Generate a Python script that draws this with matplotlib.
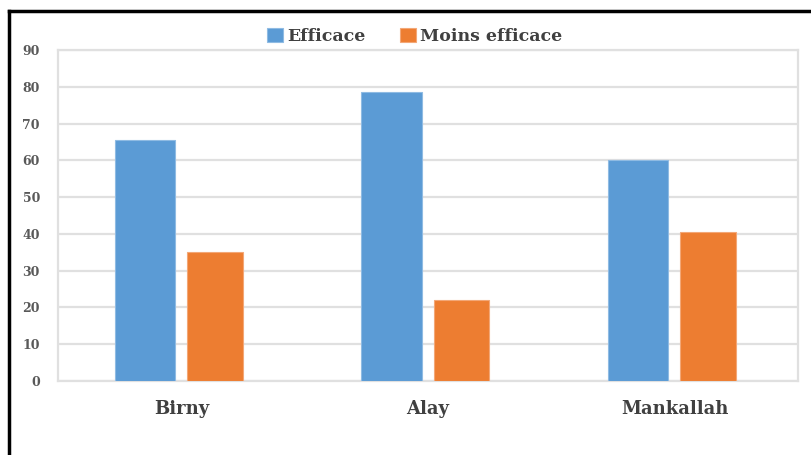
import matplotlib.pyplot as plt
import numpy as np
from matplotlib.lines import Line2D

categories = ["Birny", "Alay", "Mankallah"]
efficace = [65.5, 78.5, 60]
moins_efficace = [35, 22, 40.5]
series_names = ["Efficace", "Moins efficace"]
yticks = list(range(0, 100, 10))

plt.rcParams['font.family'] = ['DejaVu Serif']

fig = plt.figure(figsize=(8.11, 4.55), dpi=100)
ax = fig.add_axes([0.0715, 0.1626, 0.9125, 0.7275])

x = np.arange(len(categories))
ax.bar(x - 0.148, efficace, 0.245, color="#5b9bd5", edgecolor="#8fbbe3", linewidth=0.8,
       label=series_names[0], zorder=3)
ax.bar(x + 0.136, moins_efficace, 0.225, color="#ed7d31", edgecolor="#f3a777", linewidth=0.8,
       label=series_names[1], zorder=3)

ax.set_xlim(-0.5, 2.5)
ax.set_ylim(0, 90)
ax.set_yticks(yticks)
ax.set_xticks(x)
ax.set_xticklabels(categories, fontsize=13, fontweight="bold", color="#404040")
for t in ax.get_yticklabels():
    t.set_fontsize(9)
    t.set_color("#595959")
    t.set_fontweight("bold")
ax.tick_params(length=0)
ax.tick_params(axis="x", pad=14)
ax.tick_params(axis="y", pad=13)
ax.grid(axis="y", color="#e0e0e0", linewidth=1.6, zorder=0)
for s in ax.spines.values():
    s.set_color("#e0e0e0")
    s.set_linewidth(1.6)

ax.legend(loc="lower center", bbox_to_anchor=(0.482, 0.995), ncol=2, frameon=False,
          prop={"weight": "bold", "size": 12.5}, handlelength=0.9, handleheight=0.9,
          columnspacing=2.0, handletextpad=0.25, borderaxespad=0.0,
          labelcolor="#404040")

# black frame lines at top and left of the image
fig.add_artist(Line2D([0.0105, 1.0], [0.9755, 0.9755], color="black", linewidth=2.5,
                      transform=fig.transFigure))
fig.add_artist(Line2D([0.0115, 0.0115], [0.0, 0.9755], color="black", linewidth=2.5,
                      transform=fig.transFigure))

fig.savefig("out.png", dpi=100)
